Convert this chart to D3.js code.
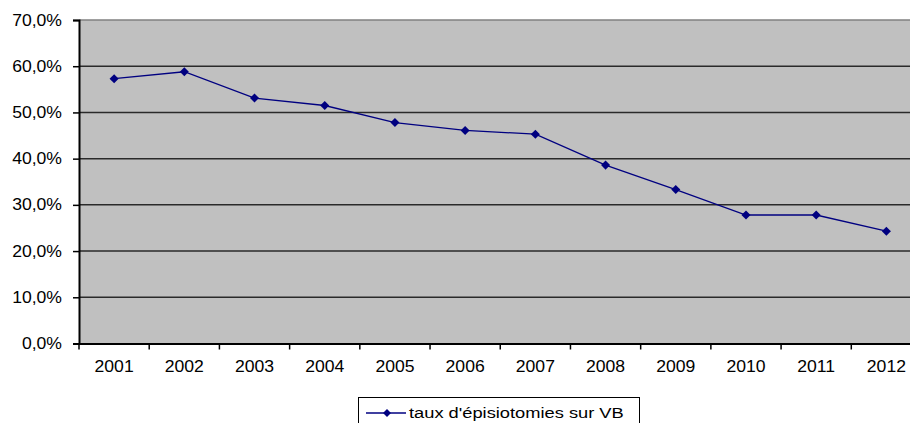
<!DOCTYPE html>
<html>
<head>
<meta charset="utf-8">
<script src="https://cdn.jsdelivr.net/npm/d3@7"></script>
<style>
  body { margin: 0; background: #fff; }
  text { font-family: "Liberation Sans", Arial, sans-serif; fill: #000; }
</style>
</head>
<body>
<script>
// values
const years = ["2001", "2002", "2003", "2004", "2005", "2006", "2007", "2008", "2009", "2010", "2011", "2012"];
const rates = [0.573, 0.588, 0.531, 0.515, 0.478, 0.461, 0.453, 0.386, 0.333, 0.278, 0.278, 0.243];
const yTicks = [0, 0.1, 0.2, 0.3, 0.4, 0.5, 0.6, 0.7];
const seriesName = "taux d'épisiotomies sur VB";

const width = 910, height = 423;
const plot = { left: 79, right: 921.5, top: 20, bottom: 343.5 };

const fr = d3.formatLocale({ decimal: ",", thousands: " ", grouping: [3], currency: ["", " €"] });
const pct = fr.format(".1%");

const svg = d3.select('body')
    .append('svg')
    .attr("width", width)
    .attr("height", height);

const x = d3.scaleBand()
    .domain(years)
    .range([plot.left, plot.right]);

const y = d3.scaleLinear()
    .domain([0, 0.7])
    .range([plot.bottom, plot.top]);

// plot area
svg.append('rect')
    .attr('x', plot.left)
    .attr('y', plot.top)
    .attr('width', plot.right - plot.left)
    .attr('height', plot.bottom - plot.top)
    .attr('fill', '#c0c0c0');

// gridlines
svg.append('g')
    .selectAll('line')
    .data(yTicks.filter(d => d > 0))
    .enter().append('line')
    .attr('x1', plot.left)
    .attr('x2', plot.right)
    .attr('y1', d => y(d))
    .attr('y2', d => y(d))
    .attr('stroke', d => d === 0.7 ? '#808080' : '#2a2a2a')
    .attr('stroke-width', 1.5);

// y axis
const yAxis = svg.append('g')
    .attr('transform', `translate(${plot.left},0)`)
    .call(d3.axisLeft(y).tickValues(yTicks).tickFormat(pct).tickSize(6).tickPadding(10));
yAxis.select('.domain').attr('stroke', '#000').attr('stroke-width', 2);
yAxis.selectAll('.tick line').attr('stroke', '#000').attr('stroke-width', 1.5);
yAxis.selectAll('.tick text')
    .attr('font-size', 16)
    .attr('font-family', '"Liberation Sans", Arial, sans-serif')
    .attr('transform', 'translate(-1,0) scale(1.1,1)')
    .attr('x', -16 / 1.1);

// x axis: labels at band centres, tick marks at band edges
const xAxis = svg.append('g')
    .attr('transform', `translate(0,${plot.bottom})`)
    .call(d3.axisBottom(x).tickSize(0).tickPadding(17));
xAxis.select('.domain').attr('stroke', '#000').attr('stroke-width', 2);
xAxis.selectAll('.tick text')
    .attr('font-size', 16)
    .attr('font-family', '"Liberation Sans", Arial, sans-serif')
    .attr('transform', 'scale(1.1,1)');

svg.append('g')
    .selectAll('line')
    .data(years)
    .enter().append('line')
    .attr('x1', d => x(d))
    .attr('x2', d => x(d))
    .attr('y1', plot.bottom)
    .attr('y2', plot.bottom + 6)
    .attr('stroke', '#000')
    .attr('stroke-width', 1.5);

// series
const cx = (d, i) => x(years[i]) + x.bandwidth() / 2;
const line = d3.line()
    .x((d, i) => cx(d, i))
    .y(d => y(d));

svg.append('path')
    .datum(rates)
    .attr('d', line)
    .attr('fill', 'none')
    .attr('stroke', '#000080')
    .attr('stroke-width', 1.3);

const diamond = d3.symbol().type(d3.symbolDiamond2).size(52);

svg.append('g')
    .selectAll('path')
    .data(rates)
    .enter().append('path')
    .attr('d', diamond)
    .attr('transform', (d, i) => `translate(${cx(d, i)},${y(d)})`)
    .attr('fill', '#000080');

// legend
const legend = svg.append('g');
legend.append('rect')
    .attr('x', 358.5)
    .attr('y', 397.5)
    .attr('width', 281)
    .attr('height', 40)
    .attr('fill', '#fff')
    .attr('stroke', '#000')
    .attr('stroke-width', 1);
legend.append('line')
    .attr('x1', 366)
    .attr('x2', 406)
    .attr('y1', 413)
    .attr('y2', 413)
    .attr('stroke', '#000080')
    .attr('stroke-width', 1.3);
legend.append('path')
    .attr('d', d3.symbol().type(d3.symbolDiamond2).size(40))
    .attr('transform', 'translate(387,413)')
    .attr('fill', '#000080');
legend.append('text')
    .attr('x', 409 / 1.18)
    .attr('y', 418)
    .attr('font-size', 15.5)
    .attr('transform', 'scale(1.18,1)')
    .text(seriesName);
</script>
</body>
</html>
